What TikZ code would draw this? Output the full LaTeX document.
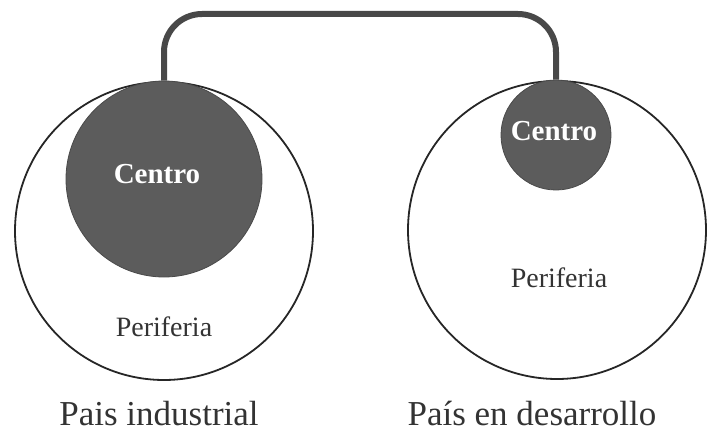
\documentclass[tikz,border=0pt]{standalone}
\usepackage{fontspec}
\setmainfont{Liberation Serif}
\usepackage{tikz}
\usetikzlibrary{positioning}

\definecolor{centrogris}{RGB}{92,92,92}
\definecolor{lineagris}{RGB}{72,72,72}

\begin{document}
\begin{tikzpicture}[x=1pt,y=-1pt,
    pais/.style={circle,draw=black!85,line width=1.8pt,fill=white,inner sep=0pt},
    centro/.style={circle,draw=centrogris!80!black,line width=0.8pt,fill=centrogris,inner sep=0pt},
    etiqueta/.style={anchor=base,text=white,font=\fontsize{29}{29}\selectfont\bfseries},
    periferia/.style={anchor=base,font=\fontsize{28}{28}\selectfont,text=black!80},
    nombre/.style={anchor=base,inner sep=1pt,font=\fontsize{35}{35}\selectfont,text=black!80}]
      \useasboundingbox (0,0) rectangle (710,436);

      \node[pais,minimum size=298pt] (pi) at (164,231) {};
      \node[pais,minimum size=298pt] (pd) at (557,230) {};

      \node[centro,minimum size=196pt] (ci) at (164,179) {};
      \node[centro,minimum size=110pt] (cd) at (556,135) {};

      \node[etiqueta] (ti) at (157,183) {Centro};
      \node[etiqueta] (td) at (554,140) {Centro};

      \node[periferia] (fi) at (164,336) {Periferia};
      \node[periferia] (fd) at (559,287) {Periferia};

      \node[nombre] (ni) at (159,425) {Pais industrial};
      \node[nombre] (nd) at (532,425) {País en desarrollo};

      \coordinate (arriba) at (360,14);
      \draw[lineagris,line width=6pt,rounded corners=38pt]
      (ci.north) |- (arriba) -| (cd.north);
    \end{tikzpicture}
\end{document}
